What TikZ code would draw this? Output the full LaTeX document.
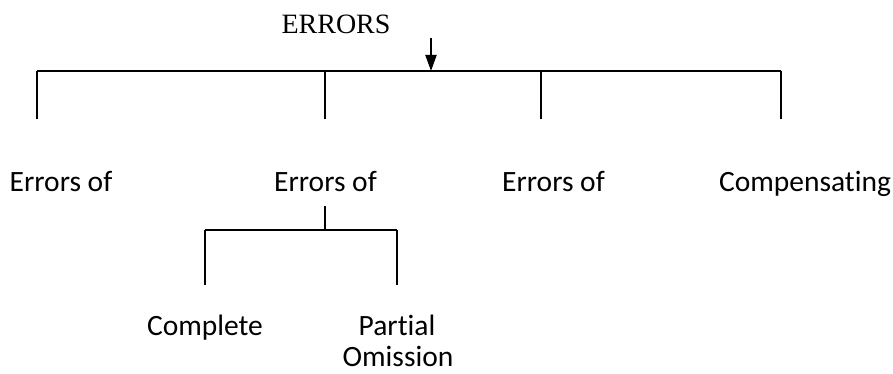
\documentclass[tikz,border=0pt]{standalone}
\usepackage{fontspec}
\setmainfont{Carlito}[Ligatures=NoCommon]
\newfontfamily\serifhead{Liberation Serif}
\usetikzlibrary{arrows.meta}
\begin{document}
\begin{tikzpicture}[x=1pt,y=-1pt,
  conn/.style={line width=2pt},
  lbl/.style={anchor=base,inner sep=0pt,font=\fontsize{29.5}{35}\selectfont},
  head/.style={anchor=base,inner sep=0pt,font=\serifhead\fontsize{28}{32}\selectfont},
  arr/.style={line width=2pt,-{Triangle[length=16pt,width=11pt]}}]
\useasboundingbox (0,0) rectangle (893,374);
% heading
\node[head] (errors) at (336,34) {ERRORS};
\coordinate (arrtop) at (431,38);
\coordinate (arrtip) at (431,71);
% main bar
\coordinate (barL) at (37,71);
\coordinate (barR) at (781,71);
\coordinate (b1) at (37,71);   \coordinate (e1) at (37,119);
\coordinate (b2) at (325,71);  \coordinate (e2) at (325,119);
\coordinate (b3) at (541,71);  \coordinate (e3) at (541,119);
\coordinate (b4) at (781,71);  \coordinate (e4) at (781,119);
% second level labels
\node[lbl] (c1) at (61,191) {Errors of};
\node[lbl] (c2) at (325.5,191) {Errors of};
\node[lbl] (c3) at (553.5,191) {Errors of};
\node[lbl] (c4) at (805,191) {Compensating};
% sub bar
\coordinate (s0) at (325,206);
\coordinate (s0b) at (325,230);
\coordinate (sL) at (205,230);
\coordinate (sR) at (397,230);
\coordinate (sLe) at (205,285);
\coordinate (sRe) at (397,285);
\node[lbl] (d1) at (205,335) {Complete};
\node[lbl] (d2) at (397,335) {Partial};
\node[lbl] (d3) at (398,366) {Omission};
% connectors
\draw[arr] (arrtop) -- (arrtip);
\draw[conn] (barL) -- (barR);
\draw[conn] (b1) -- (e1);
\draw[conn] (b2) -- (e2);
\draw[conn] (b3) -- (e3);
\draw[conn] (b4) -- (e4);
\draw[conn] (s0) -- (s0b);
\draw[conn] (sL) -- (sR);
\draw[conn] (sL) -- (sLe);
\draw[conn] (sR) -- (sRe);
\end{tikzpicture}
\end{document}
